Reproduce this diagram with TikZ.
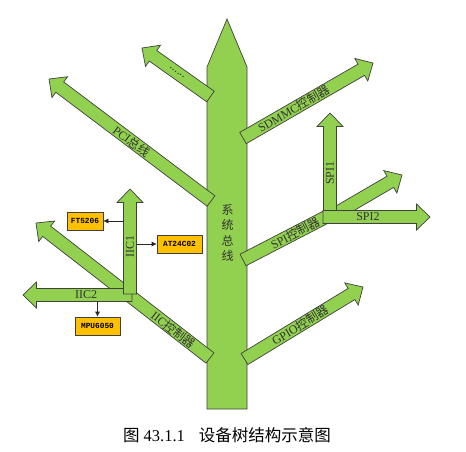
\documentclass[tikz,border=0pt]{standalone}
\usepackage{fontspec}
\setmainfont{Liberation Serif}
\newfontfamily\cjk{Noto Sans CJK SC}
\newfontfamily\chipfont{Liberation Mono}
\usetikzlibrary{calc}
\usetikzlibrary{positioning}
\usetikzlibrary{arrows.meta}
\definecolor{leaf}{HTML}{92D050}
\definecolor{chipy}{HTML}{FFC000}
\definecolor{rim}{HTML}{404040}
\newcommand{\shaftw}{6.5pt}
\newcommand{\headw}{13pt}
\newcommand{\headl}{13.5pt}
\tikzset{
    branch/.style = {fill=leaf, draw=rim, line width=0.7pt, line join=miter},
    lbl/.style = {inner sep=0pt, text=black!80, font=\fontsize{12}{15.5}\selectfont},
    chip/.style = {rectangle, draw=rim, fill=chipy, line width=0.6pt, inner sep=0pt, minimum height=18pt, font=\chipfont\bfseries\fontsize{7.8}{8}\selectfont},
    link/.style = {-{Latex[length=5pt,width=5pt]}, black!85, line width=0.6pt},
    caption/.style = {inner sep=0pt, font=\fontsize{16.5}{17}\selectfont}
}
% thick arrow, tail #1, tip #2
\newcommand{\bigarrow}[2]{%
  \coordinate (hb) at ($(#2)!\headl!(#1)$);
  \filldraw[branch] ($(#1)!\shaftw!90:(#2)$) -- ($(hb)!\shaftw!90:(#2)$)
    -- ($(hb)!\headw!90:(#2)$) -- (#2) -- ($(hb)!\headw!-90:(#2)$)
    -- ($(hb)!\shaftw!-90:(#2)$) -- ($(#1)!\shaftw!-90:(#2)$) -- cycle;}

\begin{document}
\begin{tikzpicture}[x=1pt,y=-1pt]
\useasboundingbox (0,0) rectangle (466,451);
% trunk
\filldraw[branch] (207,409) -- (207,67) -- (227,19) -- (247,67) -- (247,409) -- cycle;
\node[lbl, align=center, font=\cjk\fontsize{12}{15.5}\selectfont] (bus) at (227.5,233) {系\\统\\总\\线};
%
\coordinate (pcit) at (211,201);   \coordinate (pcih) at (49,79);
\coordinate (etct) at (210.5,96.5); \coordinate (etch) at (142,48);
\coordinate (sdt) at (243,138);    \coordinate (sdh) at (373,63);
\coordinate (spit) at (243,260);   \coordinate (spij) at (326,217);
\coordinate (spi3t) at (330,217);  \coordinate (spi3h) at (402,175);
\coordinate (spi1t) at (330,217);  \coordinate (spi1h) at (330,113);
\coordinate (spi2t) at (323,217);  \coordinate (spi2h) at (430,217);
\coordinate (gpiot) at (244.5,359); \coordinate (gpioh) at (363,287);
\coordinate (iict) at (210,358);   \coordinate (iich) at (36,223);
\coordinate (iic2t) at (132,295);  \coordinate (iic2h) at (23,295);
\coordinate (iic1t) at (130,294);  \coordinate (iic1h) at (130,189);
%
\bigarrow{pcit}{pcih}
\bigarrow{etct}{etch}
\bigarrow{sdt}{sdh}
\filldraw[branch] ($(spit)!\shaftw!90:(spij)$) -- ($(spij)!\shaftw!-90:(spit)$)
    -- ($(spij)!\shaftw!90:(spit)$) -- ($(spit)!\shaftw!-90:(spij)$) -- cycle;
\bigarrow{spi3t}{spi3h}
\bigarrow{spi1t}{spi1h}
\bigarrow{spi2t}{spi2h}
\bigarrow{gpiot}{gpioh}
\bigarrow{iict}{iich}
\bigarrow{iic2t}{iic2h}
\bigarrow{iic1t}{iic1h}
%
\path (pcih) -- node[lbl, sloped, pos=0.51] {PCI{\cjk 总线}} (pcit);
\path (etch) -- node[lbl, sloped, pos=0.51] {......} (etct);
\path (sdt) -- node[lbl, sloped, pos=0.39] {SDMMC{\cjk 控制器}} (sdh);
\path (spit) -- node[lbl, sloped, pos=0.63] {SPI{\cjk 控制器}} (spij);
\path (spi1t) -- node[lbl, sloped, pos=0.42] {SPI1} (spi1h);
\path (spi2t) -- node[lbl, sloped, pos=0.42] {SPI2} (spi2h);
\path (gpiot) -- node[lbl, sloped, pos=0.47] {GPIO{\cjk 控制器}} (gpioh);
\path (iich) -- node[lbl, sloped, pos=0.79] {IIC{\cjk 控制器}} (iict);
\path (iic2h) -- node[lbl, sloped, pos=0.58] {IIC2} (iic2t);
\path (iic1t) -- node[lbl, sloped, pos=0.45] {IIC1} (iic1h);
%
\node[chip, minimum width=36pt] (ft) at (85,221) {FT5206};
\node[chip, minimum width=45pt] (at) at (179.5,244) {AT24C02};
\node[chip, minimum width=45pt] (mpu) at (97.5,326) {MPU6050};
\coordinate (iic1w) at (123.5,221);
\coordinate (iic1e) at (136.5,244);
\coordinate (iic2s) at (97.5,301.5);
\draw[link] (iic1w) -- (ft.east);
\draw[link] (iic1e) -- (at.west);
\draw[link] (iic2s) -- (mpu.north);
%
\node[caption] (cap) at (227,435) {{\cjk 图} 43.1.1\hspace{14pt}{\cjk 设备树结构示意图}};
\end{tikzpicture}
\end{document}
